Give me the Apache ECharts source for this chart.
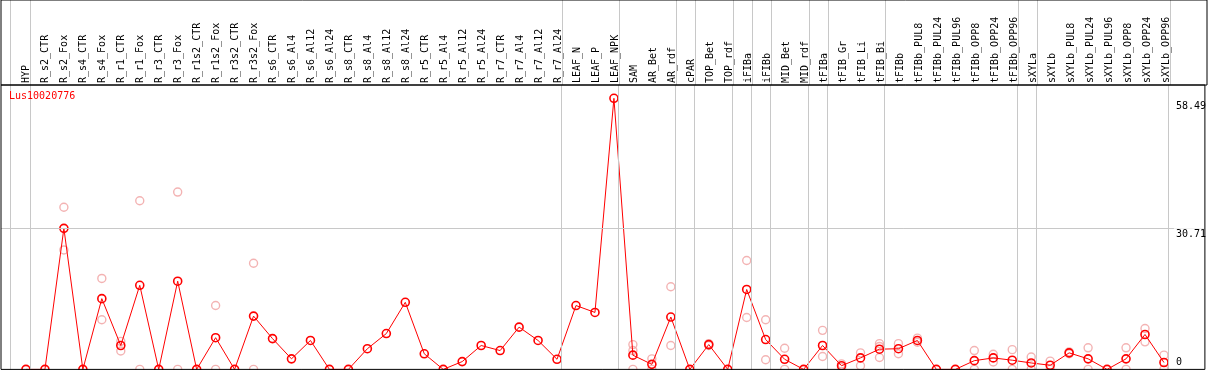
<!DOCTYPE html>
<html>
<head>
<meta charset="utf-8">
<script src="https://cdn.jsdelivr.net/npm/echarts@6/dist/echarts.min.js"></script>
<style>
  html, body { margin: 0; padding: 0; background: #fff; }
  #chart { width: 1209px; height: 370px; }
</style>
</head>
<body>
<div id="chart"></div>
<script>
const chartTitle = 'Lus10020776';
const categories = [
  'HYP','R_s2_CTR','R_s2_Fox','R_s4_CTR','R_s4_Fox','R_r1_CTR','R_r1_Fox','R_r3_CTR','R_r3_Fox',
  'R_r1s2_CTR','R_r1s2_Fox','R_r3s2_CTR','R_r3s2_Fox','R_s6_CTR','R_s6_Al4','R_s6_Al12','R_s6_Al24',
  'R_s8_CTR','R_s8_Al4','R_s8_Al12','R_s8_Al24','R_r5_CTR','R_r5_Al4','R_r5_Al12','R_r5_Al24',
  'R_r7_CTR','R_r7_Al4','R_r7_Al12','R_r7_Al24','LEAF_N','LEAF_P','LEAF_NPK','SAM','AR_Bet','AR_rdf',
  'cPAR','TOP_Bet','TOP_rdf','iFIBa','iFIBb','MID_Bet','MID_rdf','tFIBa','tFIB_Gr','tFIB_Li','tFIB_Bi',
  'tFIBb','tFIBb_PUL8','tFIBb_PUL24','tFIBb_PUL96','tFIBb_OPP8','tFIBb_OPP24','tFIBb_OPP96',
  'sXYLa','sXYLb','sXYLb_PUL8','sXYLb_PUL24','sXYLb_PUL96','sXYLb_OPP8','sXYLb_OPP24','sXYLb_OPP96'
];
const meanValues = [
  0, 0, 30.7, 0, 15.4, 5.2, 18.3, 0, 19.2,
  0, 6.9, 0, 11.6, 6.7, 2.3, 6.3, 0,
  0, 4.5, 7.8, 14.6, 3.4, 0, 1.7, 5.2,
  4.1, 9.2, 6.3, 2.2, 13.9, 12.4, 59.0, 3.1, 1.1, 11.4,
  0, 5.4, 0, 17.4, 6.5, 2.2, 0, 5.2, 0.8, 2.5, 4.4,
  4.5, 6.3, 0, 0, 1.9, 2.5, 2.0,
  1.4, 0.9, 3.6, 2.3, 0, 2.3, 7.6, 1.5
];
const replicate1 = [
  null, null, 35.3, null, 19.8, 6.1, 36.7, null, 38.6,
  null, 13.9, null, 23.1, null, null, null, null,
  null, null, null, null, null, null, null, null,
  null, null, null, null, null, null, null, 5.4, 2.3, 18.0,
  null, 5.6, null, 23.7, 10.8, 4.6, null, 8.5, 1.2, 3.6, 5.6,
  5.6, 6.8, null, null, 4.1, 3.3, 4.3,
  2.7, 1.8, 3.8, 4.7, null, 4.7, 8.9, 3.1
];
const replicate2 = [
  null, null, 26.0, null, 10.8, 4.0, 0, null, 0,
  null, 0, null, 0, null, null, null, null,
  null, null, null, null, null, null, null, null,
  null, null, null, null, null, null, null, 4.1, 0, 5.2,
  null, 5.2, null, 11.3, 2.1, 0, null, 2.8, 0.4, 0.8, 2.6,
  3.4, 5.9, null, null, 0, 1.6, 0,
  0, 0, 3.4, 0, null, 0, 6.0, 0
];
const replicate3 = [
  null, null, null, null, null, null, null, null, null,
  null, null, null, null, null, null, null, null,
  null, null, null, null, null, null, null, null,
  null, null, null, null, null, null, null, 0, null, null,
  null, null, null, null, null, null, null, null, null, null, 5.0,
  null, null, null, null, null, null, null,
  null, null, null, null, null, null, null, null
];
const yTickLabels = [30.71, 58.49];
const yZeroLabel = [0];
const gridLineValues = [30.71];
// a light vertical rule is drawn just after each of these categories (-1 = before the first)
const groupEnds = [-1, 0, 28, 31, 34, 35, 37, 38, 39, 41, 42, 45, 52, 53, 60];

const MONO = 'DejaVu Sans Mono';
const RED = '#ff0000';
const PINK = '#f0a0a0';
const RULE = '#c8c8c8';

// layout: category i sits at pixel 26 + 19*i, frame spans x 1..1207
const STEP = 19, FIRST = 26, LEFT = 1, RIGHTEDGE = 1207;
const xMin = (LEFT - FIRST) / STEP;
const xMax = (RIGHTEDGE - FIRST) / STEP;
const RULE_OFFSET = 4.5 / STEP;

const pairs = arr => arr.map((v, i) => v == null ? null : [i, v]).filter(p => p);
const tickIdx = categories.map((c, i) => i);
const vRules = groupEnds.map(g => ({ xAxis: g + (g < 0 ? 3 / STEP : RULE_OFFSET) }));

const xBase = {
  type: 'value', min: xMin, max: xMax,
  axisLine: { show: false }, axisTick: { show: false }, splitLine: { show: false }
};

const chart = echarts.init(document.getElementById('chart'), null, { renderer: 'canvas' });
chart.setOption({
  animation: false,
  backgroundColor: '#fff',
  title: {
    text: chartTitle, left: 9, top: 91, padding: 0,
    textStyle: { color: RED, fontFamily: MONO, fontSize: 10, fontWeight: 'normal' }
  },
  grid: [
    { left: LEFT, right: 1209 - RIGHTEDGE, top: 0, height: 85, show: true, z: 6, borderColor: '#000', borderWidth: 1, backgroundColor: 'transparent' },
    { left: LEFT, right: 1209 - RIGHTEDGE, top: 85, bottom: 0.6, show: true, z: 6, borderColor: '#000', borderWidth: 1, backgroundColor: 'transparent' }
  ],
  xAxis: [
    Object.assign({}, xBase, {
      gridIndex: 0, position: 'bottom',
      axisLabel: {
        show: true, inside: true, rotate: 90, margin: 2,
        customValues: tickIdx,
        formatter: v => categories[Math.round(v)] || '',
        fontFamily: MONO, fontSize: 10, color: '#000'
      }
    }),
    Object.assign({}, xBase, { gridIndex: 1, axisLabel: { show: false } })
  ],
  yAxis: [
    { type: 'value', gridIndex: 0, min: 0, max: 1, show: false },
    { type: 'value', gridIndex: 1, min: 0, max: 61.9, position: 'right',
      axisLine: { show: false }, axisTick: { show: false }, splitLine: { show: false },
      z: 5,
      axisLabel: { show: true, inside: true, customValues: yTickLabels, align: 'left', margin: 31,
        verticalAlign: 'top', fontFamily: MONO, fontSize: 10, color: '#000',
        backgroundColor: '#fff', padding: [1, 0, 1, 2], formatter: v => String(v) } },
    { type: 'value', gridIndex: 1, min: 0, max: 61.9, position: 'right',
      axisLine: { show: false }, axisTick: { show: false }, splitLine: { show: false },
      z: 5,
      axisLabel: { show: true, inside: true, customValues: yZeroLabel, align: 'left', margin: 31,
        verticalAlign: 'bottom', fontFamily: MONO, fontSize: 10, color: '#000',
        padding: [0, 0, 2, 2], formatter: v => String(v) } }
  ],
  series: [
    { type: 'line', xAxisIndex: 0, yAxisIndex: 0, data: [], z: 1, silent: true,
      markLine: { silent: true, symbol: 'none', label: { show: false },
        lineStyle: { color: RULE, width: 1, type: 'solid' }, data: vRules } },
    { type: 'line', xAxisIndex: 1, yAxisIndex: 1, data: [], z: 1, silent: true,
      markLine: { silent: true, symbol: 'none', label: { show: false },
        lineStyle: { color: RULE, width: 1, type: 'solid' },
        data: vRules.concat(gridLineValues.map(v => ({ yAxis: v }))) } },
    ...[replicate1, replicate2, replicate3].map(r => ({
      type: 'scatter', xAxisIndex: 1, yAxisIndex: 1, z: 3, silent: true,
      symbol: 'circle', symbolSize: 8,
      itemStyle: { color: 'rgba(0,0,0,0)', borderColor: PINK, borderWidth: 1.4 },
      data: pairs(r)
    })),
    { type: 'line', xAxisIndex: 1, yAxisIndex: 1, z: 4, silent: true,
      symbol: 'circle', symbolSize: 8, showAllSymbol: true, clip: false,
      lineStyle: { color: RED, width: 1 },
      itemStyle: { color: 'rgba(0,0,0,0)', borderColor: RED, borderWidth: 1.6 },
      data: pairs(meanValues) }
  ]
});
</script>
</body>
</html>
